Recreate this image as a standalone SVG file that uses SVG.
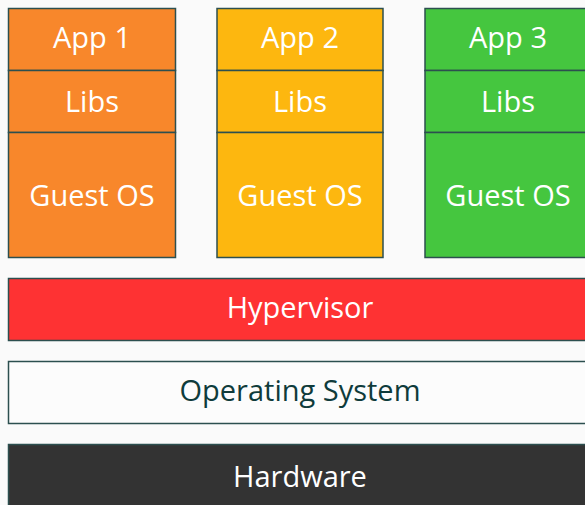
<svg xmlns="http://www.w3.org/2000/svg" width="585" height="505" viewBox="0 0 585 505">
  <style>
    .box { stroke: #2c4f4f; stroke-width: 1.5; }
    .lbl { font-family: "Open Sans", "Liberation Sans", sans-serif; font-size: 29px; fill: #ffffff; text-anchor: middle; }
    .dark { fill: #0f3b3b; }
  </style>
  <rect width="585" height="505" fill="#fafafa"/>

  <g id="vm1">
    <rect class="box" x="8.5" y="8.5" width="167" height="62" fill="#f8872b"/>
    <rect class="box" x="8.5" y="70.5" width="167" height="62" fill="#f8872b"/>
    <rect class="box" x="8.5" y="132.5" width="167" height="125" fill="#f8872b"/>
    <text class="lbl" x="92" y="48">App 1</text>
    <text class="lbl" x="92" y="112">Libs</text>
    <text class="lbl" x="92" y="206">Guest OS</text>
  </g>

  <g id="vm2">
    <rect class="box" x="217" y="8.5" width="166" height="62" fill="#fdb70f"/>
    <rect class="box" x="217" y="70.5" width="166" height="62" fill="#fdb70f"/>
    <rect class="box" x="217" y="132.5" width="166" height="125" fill="#fdb70f"/>
    <text class="lbl" x="300" y="48">App 2</text>
    <text class="lbl" x="300" y="112">Libs</text>
    <text class="lbl" x="300" y="206">Guest OS</text>
  </g>

  <g id="vm3">
    <rect class="box" x="425" y="8.5" width="170" height="62" fill="#45c63f"/>
    <rect class="box" x="425" y="70.5" width="170" height="62" fill="#45c63f"/>
    <rect class="box" x="425" y="132.5" width="170" height="125" fill="#45c63f"/>
    <text class="lbl" x="508" y="48">App 3</text>
    <text class="lbl" x="508" y="112">Libs</text>
    <text class="lbl" x="508" y="206">Guest OS</text>
  </g>

  <g id="hypervisor">
    <rect class="box" x="8.5" y="278.5" width="590" height="62" fill="#fe3233"/>
    <text class="lbl" x="300" y="318">Hypervisor</text>
  </g>

  <g id="os">
    <rect class="box" x="8.5" y="361.5" width="590" height="62" fill="#fcfcfc"/>
    <text class="lbl dark" x="300" y="401">Operating System</text>
  </g>

  <g id="hardware">
    <rect class="box" x="8.5" y="444.5" width="590" height="70" fill="#333333"/>
    <text class="lbl" x="300" y="487">Hardware</text>
  </g>

  <g id="connectors"/>
</svg>
